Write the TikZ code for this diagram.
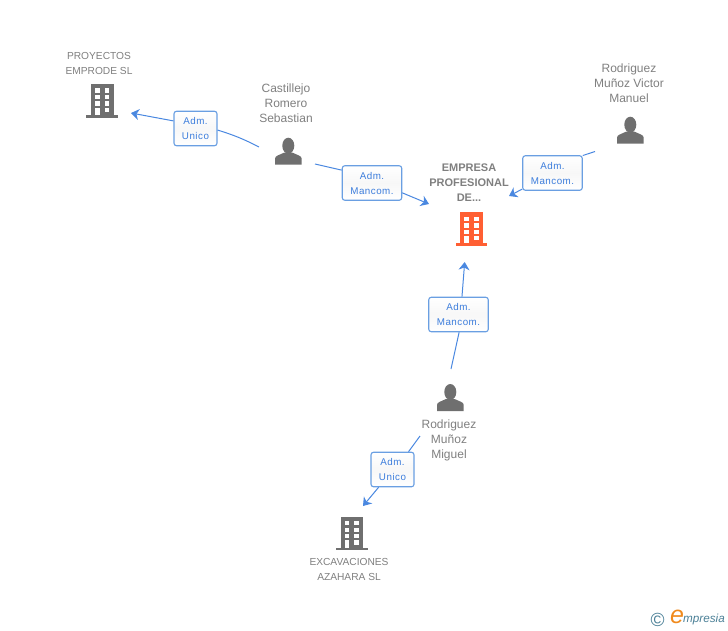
\documentclass[tikz,border=0pt]{standalone}
\usepackage{fontspec}
\setmainfont{Liberation Sans}
\newfontfamily\boxfont[LetterSpace=5]{Liberation Sans}
\usetikzlibrary{arrows.meta,shadings}
\definecolor{linkblue}{HTML}{4A88E0}
\definecolor{boxblue}{HTML}{6A9FE2}
\definecolor{textblue}{HTML}{3C7DDC}
\definecolor{icongray}{HTML}{6F6F6F}
\definecolor{labelgray}{HTML}{7F7F7F}
\definecolor{iconorange}{HTML}{FF5F33}
\definecolor{logoblue}{HTML}{4A7F96}
\definecolor{logoorange}{HTML}{F08A1D}

\begin{document}
\begin{tikzpicture}[
    x=1pt, y=-1pt,
    % Style for the small role boxes on the links
    rolebox/.style={draw=boxblue, line width=1.1pt, rounded corners=2.5pt, top color=white, bottom color=white, middle color=black!3,
        minimum height=34.5pt, inner sep=0pt, align=center, text=textblue,
        font=\boxfont\fontsize{9.8}{15}\selectfont},
    unicobox/.style={rolebox, minimum width=43pt},
    mancombox/.style={rolebox, minimum width=59.5pt},
    % Style for the grey captions
    caption/.style={align=center, text=labelgray, inner sep=0pt, font=\fontsize{10.2}{15}\selectfont},
    personcaption/.style={caption, font=\fontsize{12}{15}\selectfont},
    link/.style={draw=linkblue, line width=1pt},
    linkarrow/.style={link, -{Stealth[length=8pt, width=11pt, inset=2.5pt]}},
    % Icons, drawn from their top left corner
    buildingicon/.pic={
        \fill[pic actions] (0,0) rectangle (22.5,31);
        \fill[pic actions] (-4.7,31) rectangle (27,33.7);
        \foreach \col in {4,13.7} \foreach \row in {4.3,11,17.3,23.7}
            \fill[white] (\col,\row) rectangle ++(4.5,4.4);
        \fill[white] (4,23.7) rectangle (8.5,31);
    },
    personicon/.pic={
        \fill[pic actions] (13.3,8) ellipse (6 and 8);
        \fill[pic actions] (0,27) -- (0,21) .. controls (0,18) and (4,17.5) .. (9,15)
            -- (17.6,15) .. controls (22.6,17.5) and (26.7,18) .. (26.7,21) -- (26.7,27) -- cycle;
    }
]
    \useasboundingbox (0,0) rectangle (728,630);

    % --- 1. Icons ---
    \pic[fill=icongray] (proyectos) at (91,84) {buildingicon};
    \pic[fill=iconorange] (empresa) at (460.3,212.3) {buildingicon};
    \pic[fill=icongray] (excavaciones) at (340.7,516.7) {buildingicon};

    \pic[fill=icongray] (castillejo) at (275,137.7) {personicon};
    \pic[fill=icongray] (victor) at (617,116.7) {personicon};
    \pic[fill=icongray] (miguel) at (437,384) {personicon};

    % --- 2. Captions ---
    \node[caption] (proyectoslabel) at (99,63) {PROYECTOS\\EMPRODE SL};
    \node[personcaption] (castillejolabel) at (286,103.5) {Castillejo\\Romero\\Sebastian};
    \node[personcaption] (victorlabel) at (629,83) {Rodriguez\\Muñoz Victor\\Manuel};
    \node[caption, font=\bfseries\fontsize{11}{15}\selectfont] (empresalabel) at (469,183) {EMPRESA\\PROFESIONAL\\DE...};
    \node[personcaption] (miguellabel) at (449,440.5) {Rodriguez\\Muñoz\\Miguel};
    \node[caption] (excavacioneslabel) at (349,569.5) {EXCAVACIONES\\AZAHARA SL};

    % --- 3. Role boxes ---
    \node[unicobox] (boxproyectos) at (195.5,128.5) {Adm.\\Unico};
    \node[mancombox] (boxcastillejo) at (372,183) {Adm.\\Mancom.};
    \node[mancombox] (boxvictor) at (552.5,173) {Adm.\\Mancom.};
    \node[mancombox] (boxmiguel) at (458.5,314.5) {Adm.\\Mancom.};
    \node[unicobox] (boxexcavaciones) at (392.5,469.5) {Adm.\\Unico};

    % --- 4. Free ends of the links ---
    \coordinate (startproyectos) at (259,147);
    \coordinate (tipproyectos) at (131,113);
    \coordinate (startcastillejo) at (315,164);
    \coordinate (tipcastillejo) at (429,204);
    \coordinate (startvictor) at (595,151.5);
    \coordinate (tipvictor) at (509,196);
    \coordinate (startmiguel) at (451,369);
    \coordinate (tipmiguel) at (464.7,262);
    \coordinate (startexcavaciones) at (420,436);
    \coordinate (tipexcavaciones) at (363,506);

    % --- 5. Links ---
    \draw[link] (startproyectos) to[bend right=5] (boxproyectos.-4);
    \draw[linkarrow] (boxproyectos.161) -- (tipproyectos);

    \draw[link] (startcastillejo) -- (boxcastillejo.157);
    \draw[linkarrow] (boxcastillejo.-18) -- (tipcastillejo);

    \draw[link] (startvictor) -- (boxvictor.30);
    \draw[linkarrow] (boxvictor.208) -- (tipvictor);

    \draw[link] (startmiguel) -- (boxmiguel.-88);
    \draw[linkarrow] (boxmiguel.79) -- (tipmiguel);

    \draw[link] (startexcavaciones) -- (boxexcavaciones.48);
    \draw[linkarrow] (boxexcavaciones.232) -- (tipexcavaciones);

    % --- 6. Logo ---
    \node[inner sep=0pt, text=logoblue, font=\fontsize{19}{19}\selectfont] (logoc) at (657.5,619.5) {©};
    \node[inner sep=0pt, text=logoorange, font=\itshape\fontsize{25}{25}\selectfont] (logoe) at (677,616.5) {e};
    \node[inner sep=0pt, anchor=west, text=logoblue, font=\itshape\fontsize{11.7}{12}\selectfont] (logotext) at (683,619) {mpresia};
\end{tikzpicture}
\end{document}
